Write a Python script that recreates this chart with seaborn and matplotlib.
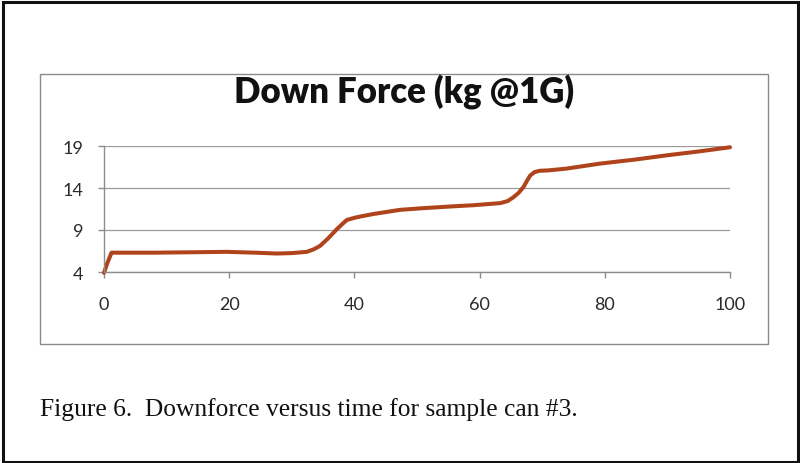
import matplotlib
matplotlib.use("Agg")
import matplotlib.pyplot as plt
import seaborn as sns
import pandas as pd
from matplotlib.patches import Rectangle

sns.set_theme(style="white")

time_vals = [0, 0.5, 1.2, 3, 8, 14, 19.6, 24, 27.6, 30, 32.4, 33.5, 34.5, 35.8, 37.2, 38.2,
             38.8, 40, 40.9, 43, 47.3, 51, 55.3, 59, 63.3, 64.5, 65.4, 66.2, 67, 67.6, 68.1,
             68.8, 69.6, 71, 73.8, 76.5, 79.2, 85, 90, 95, 100]
force_vals = [3.9, 5.0, 6.3, 6.3, 6.3, 6.35, 6.4, 6.3, 6.2, 6.25, 6.4, 6.7, 7.1, 8.0, 9.1, 9.8,
              10.2, 10.45, 10.6, 10.9, 11.4, 11.6, 11.8, 11.95, 12.2, 12.45, 12.9, 13.4, 14.1, 14.9, 15.5,
              15.9, 16.05, 16.1, 16.3, 16.6, 16.9, 17.4, 17.9, 18.35, 18.85]
x_ticks = [0, 20, 40, 60, 80, 100]
y_ticks = [4, 9, 14, 19]
title = "Down Force (kg @1G)"
caption = "Figure 6.  Downforce versus time for sample can #3."

df = pd.DataFrame({"time": time_vals, "force": force_vals})

W, H = 800, 464
fig = plt.figure(figsize=(8, 4.64), dpi=100)
fig.patch.set_facecolor("white")

# outer black frame
fig.patches.append(Rectangle((2.5 / W, 1.5 / H), 795 / W, 460 / H, transform=fig.transFigure,
                             fill=False, edgecolor="#111111", linewidth=2.2))
# inner chart box
fig.patches.append(Rectangle((40 / W, 1 - 345 / H), 728 / W, 270 / H, transform=fig.transFigure,
                             fill=False, edgecolor="#8a8a8a", linewidth=1.0))

ax = fig.add_axes([104 / W, 1 - 273 / H, 626 / W, 126 / H])
sns.lineplot(data=df, x="time", y="force", ax=ax, color="#AF441C", linewidth=2.9, clip_on=False)

ax.set_xlim(0, 100)
ax.set_ylim(4, 19)
ax.set_xticks(x_ticks)
ax.set_yticks(y_ticks)
ax.set_xticklabels([str(v) for v in x_ticks])
ax.set_yticklabels([str(v) for v in y_ticks])
ax.set_xlabel("")
ax.set_ylabel("")
ax.set_facecolor("none")

for s in ["top", "right"]:
    ax.spines[s].set_visible(False)
for s in ["left", "bottom"]:
    ax.spines[s].set_color("#8c8c8c")
    ax.spines[s].set_linewidth(1.0)

ax.yaxis.grid(True, color="#9a9a9a", linewidth=0.9)
ax.xaxis.grid(False)
ax.set_axisbelow(True)

ax.tick_params(axis="x", direction="out", length=4, width=1, color="#8c8c8c", pad=13,
               labelsize=13, labelcolor="#2a2a2a", bottom=True)
ax.tick_params(axis="y", direction="out", length=4, width=1, color="#8c8c8c", pad=11,
               labelsize=13, labelcolor="#2a2a2a", left=True)
for lab in ax.get_xticklabels() + ax.get_yticklabels():
    lab.set_fontfamily(["Lato", "DejaVu Sans"])

fig.text(404 / W, 1 - 92 / H, title, ha="center", va="center", fontsize=25, fontweight="heavy",
         family=["Lato", "DejaVu Sans"], color="#111111")
fig.text(40 / W, 1 - 410 / H, caption, ha="left", va="center", fontsize=18.4,
         family=["Liberation Serif", "DejaVu Serif"], color="#111111")

fig.savefig("out.png", dpi=100, facecolor="white")
